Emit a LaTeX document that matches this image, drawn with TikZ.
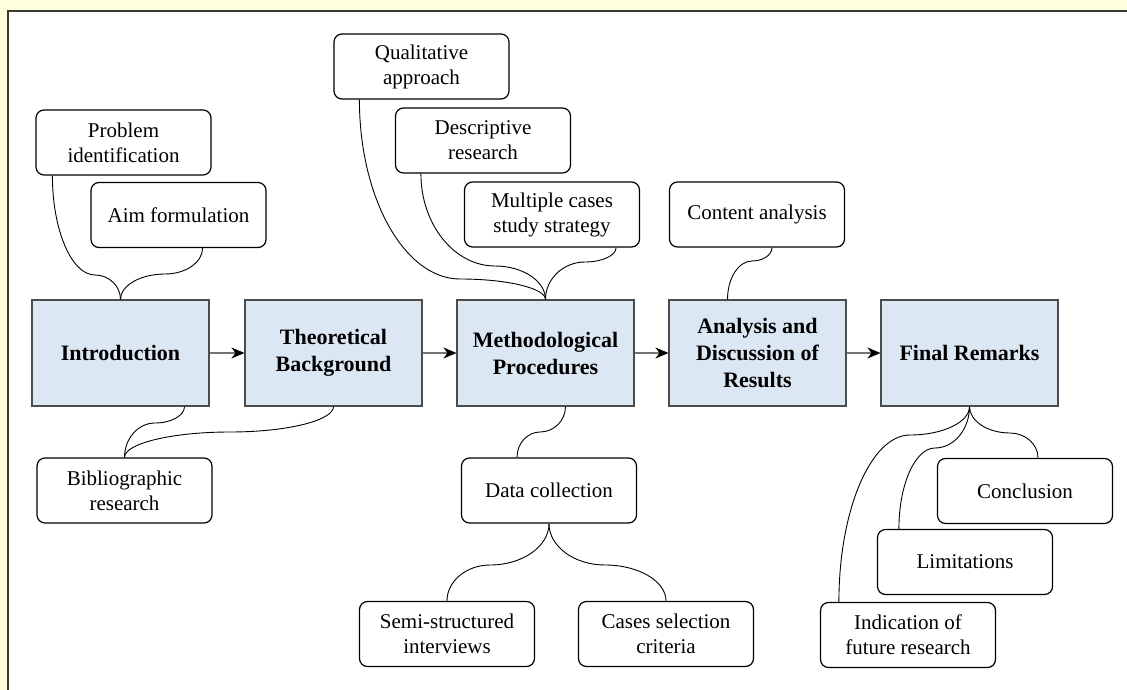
\documentclass[tikz,border=0pt]{standalone}
\usepackage{fontspec}
\setmainfont{Liberation Serif}
\usetikzlibrary{calc,arrows.meta}
\definecolor{bgyellow}{HTML}{FFFFDD}
\definecolor{frameline}{HTML}{3A3A30}
\definecolor{mainfill}{HTML}{DCE7F4}
\newcommand{\clink}[3]{\draw[link] (#1) .. controls ($(#1)!0.55!(#1|-#2)$) and ($(#2)!0.55!(#1|-#2)$) .. (#2) .. controls ($(#2)!0.55!(#3|-#2)$) and ($(#3)!0.55!(#3|-#2)$) .. (#3);}
\tikzset{
  mainbox/.style={draw=black!70, fill=mainfill, line width=1.1pt, minimum width=177pt, minimum height=106pt, inner sep=2pt, align=center, font=\fontsize{22}{27}\selectfont\bfseries},
  subbox/.style={draw=black, fill=white, line width=1.2pt, rounded corners=8pt, minimum width=175pt, minimum height=65pt, inner sep=2pt, align=center, font=\fontsize{21}{25}\selectfont},
  link/.style={draw=black, line width=0.9pt},
  flow/.style={draw=black!55, line width=1.1pt, -{Stealth[length=13pt,width=11pt,inset=4pt,black]}}
}
\begin{document}
\begin{tikzpicture}[x=1pt,y=-1pt]
\useasboundingbox (0,0) rectangle (1127,690);
\fill[bgyellow] (0,0) rectangle (1127,690);
\fill[white] (8,11) rectangle (1127,690);
\draw[frameline, line width=1.6pt] (7.8,690) -- (7.8,10.8) -- (1127,10.8);

% main boxes
\node[mainbox] (intro) at (120.5,353) {Introduction};
\node[mainbox] (theo) at (333.5,353) {Theoretical\\Background};
\node[mainbox] (meth) at (545.5,353) {Methodological\\Procedures};
\node[mainbox] (anal) at (757.5,353) {Analysis and\\Discussion of\\Results};
\node[mainbox] (final) at (969.5,353) {Final Remarks};

\draw[flow] (intro) -- (theo);
\draw[flow] (theo) -- (meth);
\draw[flow] (meth) -- (anal);
\draw[flow] (anal) -- (final);

% sub boxes
\node[subbox] (prob) at (123.5,142.5) {Problem\\identification};
\node[subbox] (aim) at (178.5,215) {Aim formulation};
\node[subbox] (bib) at (124.5,490.5) {Bibliographic\\research};
\node[subbox] (qual) at (421.5,66.5) {Qualitative\\approach};
\node[subbox] (desc) at (483,140.5) {Descriptive\\research};
\node[subbox] (mult) at (552,214.5) {Multiple cases\\study strategy};
\node[subbox] (cont) at (757,214.5) {Content analysis};
\node[subbox] (data) at (549,490.5) {Data collection};
\node[subbox] (semi) at (447,634) {Semi-structured\\interviews};
\node[subbox] (cases) at (666,634) {Cases selection\\criteria};
\node[subbox] (concl) at (1025,491) {Conclusion};
\node[subbox] (limit) at (965,562) {Limitations};
\node[subbox] (indic) at (908,635) {Indication of\\future research};

% connector end points
\coordinate (s1) at ($(prob.south west)+(17,0)$);
\coordinate (s2) at ($(aim.south east)+(-64,0)$);
\coordinate (s3) at ($(intro.south)+(64,0)$);
\coordinate (s5) at ($(qual.south west)+(26,0)$);
\coordinate (s6) at ($(desc.south west)+(26,0)$);
\coordinate (s7) at ($(mult.south east)+(-24,0)$);
\coordinate (s8) at ($(meth.south)+(20,0)$);
\coordinate (e8) at ($(data.north)+(-32,0)$);
\coordinate (s11) at ($(cont.south)+(15,0)$);
\coordinate (e11) at ($(anal.north)+(-30,0)$);
\coordinate (e12) at ($(concl.north)+(13,0)$);
\coordinate (e13) at ($(limit.north west)+(22,0)$);
\coordinate (e14) at ($(indic.north west)+(19,0)$);
\coordinate (in) at (intro.north);
\coordinate (bn) at (bib.north);
\coordinate (ts) at (theo.south);
\coordinate (mn) at (meth.north);
\coordinate (ds) at (data.south);
\coordinate (sn) at (semi.north);
\coordinate (cn) at (cases.north);
\coordinate (fs) at (final.south);

% mid points
\coordinate (m1) at (95,275);
\coordinate (m2) at (165,274);
\coordinate (m3) at (155,423);
\coordinate (m4) at (230,432);
\coordinate (m5) at (460,279);
\coordinate (m6) at (495,266);
\coordinate (m7) at (585,262);
\coordinate (m8) at (540,432);
\coordinate (m9) at (490,565);
\coordinate (m10) at (605,565);
\coordinate (m11) at (752,261);
\coordinate (m12) at (1010,433);
\coordinate (m13) at (935,448);
\coordinate (m14) at (910,435);

\clink{s1}{m1}{in}
\clink{s2}{m2}{in}
\clink{s3}{m3}{bn}
\clink{ts}{m4}{bn}
\clink{s5}{m5}{mn}
\clink{s6}{m6}{mn}
\clink{s7}{m7}{mn}
\clink{s8}{m8}{e8}
\clink{ds}{m9}{sn}
\clink{ds}{m10}{cn}
\clink{s11}{m11}{e11}
\clink{fs}{m12}{e12}
\clink{fs}{m13}{e13}
\clink{fs}{m14}{e14}
\end{tikzpicture}
\end{document}
